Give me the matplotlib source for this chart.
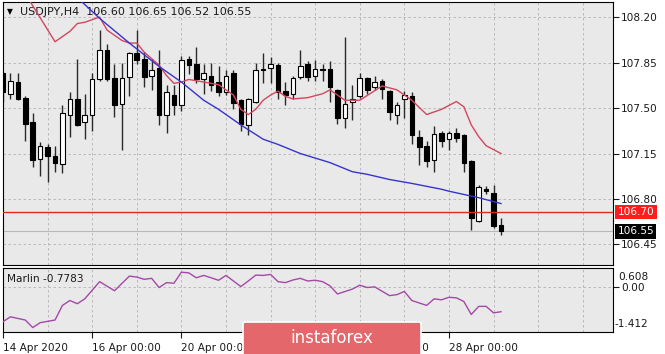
import matplotlib.pyplot as plt
import numpy as np
from matplotlib.patches import FancyBboxPatch

symbol = "USDJPY"
timeframe = "H4"

# H4 candles, 14 Apr 2020 00:00 onwards
opens = [107.77, 107.61, 107.70, 107.58, 107.39, 107.11, 107.20, 107.13, 107.07, 107.45,
         107.57, 107.39, 107.45, 107.72, 107.95, 107.73, 107.53, 107.74, 107.92, 107.88,
         107.75, 107.81, 107.45, 107.60, 107.52, 107.88, 107.84, 107.72, 107.75, 107.70,
         107.62, 107.77, 107.56, 107.37, 107.55, 107.80, 107.81, 107.83, 107.63, 107.61,
         107.74, 107.84, 107.75, 107.80, 107.80, 107.64, 107.42, 107.55, 107.59, 107.73,
         107.66, 107.71, 107.63, 107.45, 107.57, 107.59, 107.28, 107.21, 107.10, 107.31,
         107.26, 107.31, 107.29, 107.09, 106.63, 106.88, 106.85, 106.60]
highs = [107.78, 107.77, 107.77, 107.59, 107.46, 107.24, 107.22, 107.21, 107.52, 107.62,
         107.88, 107.61, 107.77, 108.10, 107.99, 107.84, 107.85, 107.93, 108.10, 107.93,
         107.88, 107.95, 107.68, 107.68, 107.90, 107.90, 107.97, 107.84, 107.85, 107.82,
         107.79, 107.79, 107.57, 107.58, 107.85, 107.92, 107.89, 107.85, 107.70, 107.75,
         107.95, 107.86, 107.87, 107.84, 107.86, 107.65, 108.05, 107.68, 107.77, 107.74,
         107.75, 107.72, 107.64, 107.55, 107.63, 107.62, 107.33, 107.25, 107.36, 107.32,
         107.32, 107.35, 107.30, 107.10, 106.91, 106.90, 106.91, 106.65]
lows = [107.55, 107.57, 107.56, 107.25, 107.05, 106.98, 106.93, 107.01, 107.00, 107.28,
        107.36, 107.26, 107.32, 107.71, 107.71, 107.43, 107.18, 107.59, 107.84, 107.66,
        107.64, 107.37, 107.31, 107.45, 107.48, 107.76, 107.69, 107.61, 107.63, 107.59,
        107.60, 107.49, 107.32, 107.29, 107.54, 107.69, 107.69, 107.57, 107.52, 107.57,
        107.72, 107.71, 107.71, 107.71, 107.55, 107.38, 107.35, 107.41, 107.58, 107.61,
        107.64, 107.57, 107.41, 107.38, 107.42, 107.22, 107.06, 107.05, 107.01, 107.20,
        107.18, 107.24, 107.01, 106.56, 106.62, 106.84, 106.58, 106.52]
closes = [107.62, 107.71, 107.57, 107.38, 107.10, 107.21, 107.13, 107.08, 107.46, 107.57,
          107.37, 107.45, 107.72, 107.95, 107.72, 107.52, 107.73, 107.92, 107.87, 107.74,
          107.79, 107.45, 107.62, 107.52, 107.87, 107.83, 107.72, 107.77, 107.68, 107.62,
          107.75, 107.54, 107.38, 107.57, 107.79, 107.79, 107.84, 107.62, 107.60, 107.73,
          107.82, 107.74, 107.80, 107.79, 107.66, 107.42, 107.53, 107.57, 107.73, 107.64,
          107.70, 107.65, 107.47, 107.52, 107.60, 107.29, 107.20, 107.09, 107.30, 107.25,
          107.31, 107.27, 107.08, 106.65, 106.89, 106.86, 106.59, 106.55]

# moving averages, read at a few bars each
red_ma_bars = [3, 7, 9, 10, 11, 13, 14, 16, 17, 18, 19, 21, 22, 23, 24, 25, 27, 29, 31, 32,
               33, 34, 35, 36, 37, 38, 39, 41, 43, 44, 46, 48, 51, 53, 55, 57, 59, 61, 62,
               63, 64, 65, 66, 67]
red_ma = [108.38, 108.01, 108.09, 108.15, 108.16, 108.20, 108.10, 108.02, 108.00, 108.00,
          107.93, 107.83, 107.75, 107.69, 107.70, 107.72, 107.70, 107.68, 107.60, 107.49,
          107.45, 107.49, 107.56, 107.60, 107.63, 107.59, 107.57, 107.58, 107.61, 107.64,
          107.56, 107.56, 107.67, 107.64, 107.56, 107.45, 107.49, 107.55, 107.51, 107.37,
          107.28, 107.21, 107.18, 107.15]
blue_ma_bars = [10, 13, 17, 21, 24, 27, 29, 32, 35, 37, 40, 44, 47, 49, 52, 55, 59, 60, 64, 67]
blue_ma = [108.35, 108.19, 108.00, 107.82, 107.70, 107.56, 107.49, 107.37, 107.26, 107.22,
           107.15, 107.08, 107.01, 106.99, 106.95, 106.92, 106.875, 106.86, 106.81, 106.765]

level = 106.70

# Marlin oscillator
marlin_bars = [0, 1, 3, 4, 5, 7, 8, 9, 10, 11, 13, 15, 17, 18, 19, 20, 21, 22, 23, 24,
               25, 26, 27, 28, 29, 30, 31, 32, 33, 34, 35, 36, 37, 38, 39, 40, 41, 42, 43,
               44, 45, 47, 48, 49, 50, 52, 53, 54, 55, 57, 58, 59, 60, 61, 62, 63, 64, 65,
               66, 67]
marlin = [-1.095, -0.94, -1.042, -1.281, -1.126, -1.042, -0.578, -0.423, -0.525, -0.37,
          0.175, -0.113, 0.351, 0.32, 0.249, 0.28, -0.011, 0.144, 0.125, 0.475,
          0.453, 0.298, 0.373, 0.298, 0.218, 0.373, 0.196, 0.02, 0.196, 0.382,
          0.373, 0.404, 0.175, 0.144, 0.227, 0.28, 0.196, 0.22, 0.175, 0.041,
          -0.216, -0.061, 0.063, -0.011, 0.01, -0.268, -0.237, -0.135, -0.423, -0.578,
          -0.37, -0.401, -0.321, -0.339, -0.454, -0.866, -0.609, -0.609, -0.816, -0.778]
marlin_last = -0.7783
marlin_min, marlin_max = -1.412, 0.608

price_ticks = [108.20, 107.85, 107.50, 107.15, 106.80, 106.45]
date_ticks = [0, 12, 24, 36, 48, 60]
# the 22 Apr label sits under the watermark in the original
date_labels = ["14 Apr 2020", "16 Apr 00:00", "20 Apr 00:00", "",
               "24 Apr 00:00", "28 Apr 00:00"]

W, H = 665, 354
BG = "#e9e9e9"
GRID = dict(color="#b3b3b3", lw=0.6, ls=(0, (3, 3)), zorder=1)
FS = 7.6


def px_box(left, top, right, bottom):
    return [left / W, 1 - bottom / H, (right - left) / W, (bottom - top) / H]


fig = plt.figure(figsize=(W / 100, H / 100), dpi=100)
ax = fig.add_axes(px_box(3, 2, 612.5, 264.5), facecolor=BG)
ax2 = fig.add_axes(px_box(3, 268, 612.5, 331.7), facecolor=BG, sharex=ax)

for a in (ax, ax2):
    for s in a.spines.values():
        s.set_color("black")
        s.set_linewidth(0.8)
    for i in range(0, 84, 6):
        a.axvline(i, **GRID)

# candles
x = np.arange(len(opens))
o, h, l, c = map(np.array, (opens, highs, lows, closes))
up = c > o
ax.vlines(x, l, h, color="#2a2a2a", lw=1, zorder=2)
body_lo = np.minimum(o, c)
body_h = np.maximum(np.abs(c - o), 0.006)
ax.bar(x[up], body_h[up], 0.62, bottom=body_lo[up], color="white",
       edgecolor="black", lw=0.8, zorder=3)
ax.bar(x[~up], body_h[~up], 0.62, bottom=body_lo[~up], color="black",
       edgecolor="black", lw=0.8, zorder=3)

ax.plot(red_ma_bars, red_ma, color="#d2475e", lw=1, zorder=4)
ax.plot(blue_ma_bars, blue_ma, color="#3535cc", lw=1, zorder=4)

for p in price_ticks:
    ax.axhline(p, **GRID)
ax.axhline(closes[-1], color="#b8b8b8", lw=0.8, zorder=1)
ax.axhline(level, color="#e02828", lw=1, zorder=4)

ax.set_xlim(0, 82)
ax.set_ylim(106.296, 108.316)
ax.yaxis.tick_right()
ax.set_yticks(price_ticks)
ax.set_yticklabels([f"{p:.2f}" for p in price_ticks])
ax.tick_params(axis="y", length=4, width=0.8, pad=2, labelsize=FS, colors="#1a1a1a")
ax.tick_params(axis="x", bottom=False, labelbottom=False)

ytr = ax.get_yaxis_transform()
ax.annotate(f"{level:.2f}", xy=(1, level), xycoords=ytr, xytext=(5, 0),
            textcoords="offset pixels", va="center", ha="left", color="white",
            fontsize=FS, annotation_clip=False,
            bbox=dict(boxstyle="square,pad=0.22", fc="#ff1c1c", ec="none"))
ax.annotate(f"{closes[-1]:.2f}", xy=(1, closes[-1]), xycoords=ytr, xytext=(5, 0),
            textcoords="offset pixels", va="center", ha="left", color="white",
            fontsize=FS, annotation_clip=False,
            bbox=dict(boxstyle="square,pad=0.22", fc="black", ec="none"))

ax.text(0.006, 0.962, "\u25bc", transform=ax.transAxes, fontsize=5.5,
        va="center", ha="left", color="black")
title = f"{symbol},{timeframe}  " + " ".join(
    f"{v:.2f}" for v in (opens[-1], highs[-1], lows[-1], closes[-1]))
ax.text(0.028, 0.962, title, transform=ax.transAxes, fontsize=FS + 0.4,
        va="center", ha="left", color="#1a1a1a")

# Marlin panel
ax2.plot(marlin_bars, marlin, color="#a548a8", lw=1, zorder=3)
ax2.axhline(0, **GRID)
ax2.set_ylim(marlin_min, marlin_max)
ax2.yaxis.tick_right()
ax2.set_yticks([0])
ax2.set_yticklabels(["0.00"])
ax2.tick_params(axis="y", length=4, width=0.8, pad=2, labelsize=FS, colors="#1a1a1a")
ytr2 = ax2.get_yaxis_transform()
ax2.annotate(f"{marlin_max:.3f}", xy=(1, marlin_max), xycoords=ytr2, xytext=(6, -9),
             textcoords="offset pixels", va="center", ha="left", fontsize=FS,
             color="#1a1a1a", annotation_clip=False)
ax2.annotate(f"{marlin_min:.3f}", xy=(1, marlin_min), xycoords=ytr2, xytext=(2, 8),
             textcoords="offset pixels", va="center", ha="left", fontsize=FS,
             color="#1a1a1a", annotation_clip=False)
ax2.text(0.007, 0.83, f"Marlin {marlin_last:.4f}", transform=ax2.transAxes,
         fontsize=FS, va="center", ha="left", color="#1a1a1a")

ax2.set_xticks(date_ticks)
ax2.set_xticklabels(date_labels, ha="left")
ax2.tick_params(axis="x", length=4, width=0.8, pad=4, labelsize=FS, colors="#1a1a1a")

# watermark
fig.patches.append(FancyBboxPatch((243 / W, -0.02), 178 / W, 1 - 322 / H + 0.02,
                                  boxstyle="round,pad=0,rounding_size=0.004",
                                  transform=fig.transFigure, fc="#e3676b",
                                  ec="white", lw=1.2, zorder=10))
fig.text(332 / W, 1 - 338 / H, "instaforex", color="white", fontsize=12,
         ha="center", va="center", zorder=11)

fig.savefig("out.png", dpi=100)
